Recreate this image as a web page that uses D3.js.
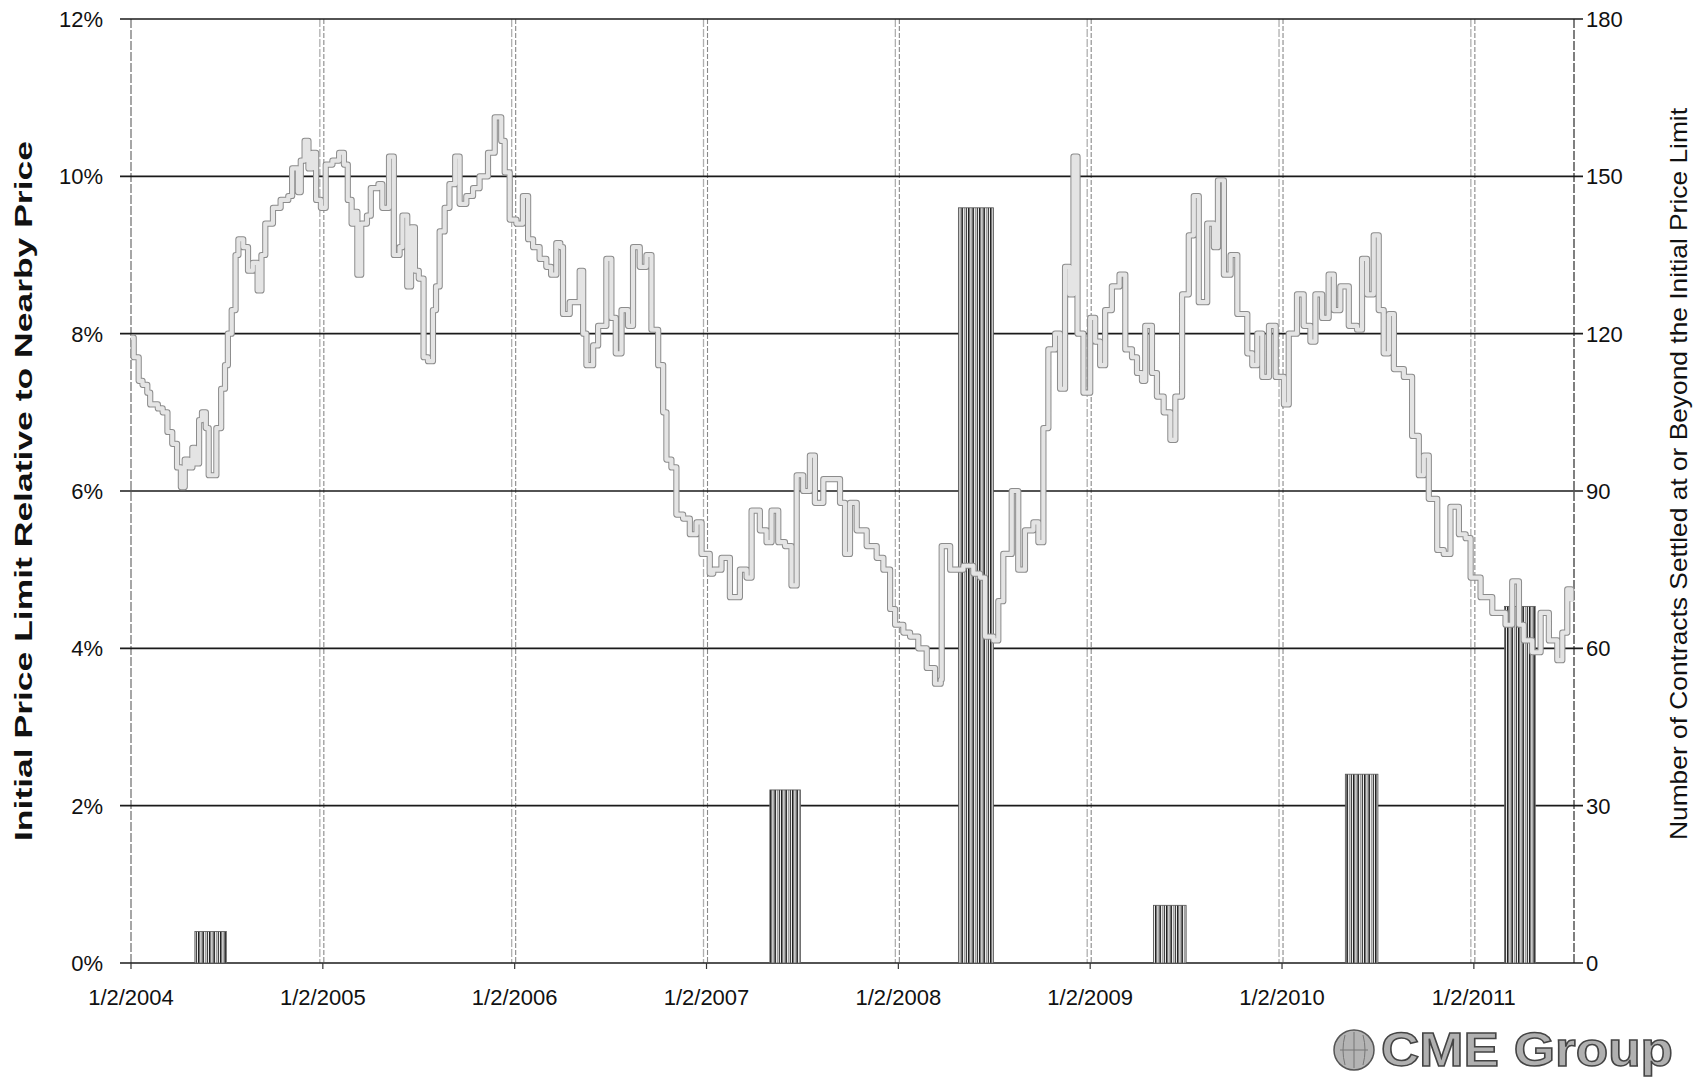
<!DOCTYPE html>
<html>
<head>
<meta charset="utf-8">
<script src="https://cdn.jsdelivr.net/npm/d3@7"></script>
<style>
  body { margin: 0; background: #fff; }
  svg text { font-family: "Liberation Sans", Arial, sans-serif; fill: #111; }
</style>
</head>
<body>
<div id="chart"></div>
<script>
// x values are years counted from 1/2 of each year
const yearTicks = [2004, 2005, 2006, 2007, 2008, 2009, 2010, 2011]
const pctTicks = [0, 2, 4, 6, 8, 10, 12]
const countTicks = [0, 30, 60, 90, 120, 150, 180]

// initial price limit relative to nearby price (%)
const priceLimit = [
  [2004.000,7.95],[2004.014,7.7],[2004.04,7.4],[2004.06,7.35],[2004.085,7.25],[2004.10,7.1],[2004.14,7.05],[2004.165,7.0],
  [2004.19,6.75],[2004.215,6.6],[2004.24,6.3],[2004.26,6.05],[2004.28,6.4],[2004.30,6.3],[2004.32,6.55],[2004.335,6.35],
  [2004.355,6.9],[2004.37,7.0],[2004.39,6.8],[2004.405,6.2],[2004.43,6.2],[2004.445,6.8],[2004.47,7.3],[2004.49,7.6],
  [2004.505,8.0],[2004.525,8.3],[2004.545,9.0],[2004.56,9.2],[2004.585,9.1],[2004.61,8.8],[2004.635,8.9],[2004.66,8.55],
  [2004.68,9.0],[2004.70,9.4],[2004.74,9.6],[2004.78,9.7],[2004.82,9.75],[2004.84,10.1],[2004.87,9.8],[2004.885,10.2],
  [2004.905,10.45],[2004.925,10.1],[2004.945,10.3],[2004.965,9.7],[2004.99,9.6],
  [2005.015,10.15],[2005.05,10.2],[2005.085,10.3],[2005.11,10.15],[2005.13,9.7],[2005.15,9.4],[2005.165,9.55],[2005.18,8.75],
  [2005.20,9.4],[2005.23,9.5],[2005.25,9.85],[2005.29,9.9],[2005.31,9.6],[2005.345,10.25],[2005.37,9.0],[2005.40,9.1],
  [2005.415,9.5],[2005.44,8.6],[2005.46,9.35],[2005.48,8.8],[2005.50,8.7],[2005.525,7.7],[2005.548,7.65],[2005.574,8.3],
  [2005.59,8.6],[2005.609,9.3],[2005.635,9.6],[2005.66,9.9],[2005.69,10.25],[2005.713,9.65],[2005.748,9.75],[2005.783,9.85],
  [2005.817,10.0],[2005.861,10.3],[2005.896,10.75],[2005.93,10.45],[2005.948,10.05],[2005.974,9.45],
  [2006.009,9.4],[2006.043,9.75],[2006.07,9.2],[2006.096,9.1],[2006.13,8.95],[2006.165,8.85],[2006.19,8.75],[2006.217,9.15],
  [2006.238,9.1],[2006.252,8.25],[2006.287,8.4],[2006.339,8.8],[2006.357,8.0],[2006.374,7.6],[2006.409,7.85],[2006.435,8.1],
  [2006.478,8.95],[2006.504,8.2],[2006.527,7.75],[2006.557,8.3],[2006.591,8.1],[2006.617,9.1],[2006.652,8.85],[2006.687,9.0],
  [2006.713,8.05],[2006.748,7.6],[2006.774,7.0],[2006.791,6.4],[2006.817,6.3],[2006.843,5.7],[2006.878,5.65],[2006.913,5.45],
  [2006.948,5.6],[2006.974,5.2],
  [2007.017,4.95],[2007.035,5.0],[2007.078,5.15],[2007.122,4.65],[2007.174,5.0],[2007.209,4.9],[2007.235,5.75],[2007.278,5.5],
  [2007.313,5.35],[2007.339,5.75],[2007.374,5.35],[2007.409,5.3],[2007.443,4.8],[2007.47,6.2],[2007.504,6.0],[2007.539,6.45],
  [2007.565,5.85],[2007.609,6.15],[2007.67,6.15],[2007.696,5.85],[2007.722,5.2],[2007.748,5.85],[2007.783,5.5],[2007.835,5.3],
  [2007.887,5.15],[2007.922,5.0],[2007.957,4.5],[2007.983,4.3],
  [2008.026,4.2],[2008.061,4.15],[2008.104,4.0],[2008.148,3.75],[2008.191,3.55],[2008.221,3.6],[2008.226,5.3],[2008.27,5.0],
  [2008.339,5.05],[2008.391,4.95],[2008.426,4.9],[2008.452,4.15],[2008.496,4.1],[2008.521,4.6],[2008.547,5.2],[2008.591,6.0],
  [2008.625,5.0],[2008.66,5.5],[2008.704,5.6],[2008.73,5.35],[2008.756,6.8],[2008.782,7.8],[2008.817,8.0],[2008.843,7.3],
  [2008.869,8.85],[2008.892,8.5],[2008.913,10.25],[2008.934,8.0],[2008.965,7.25],
  [2009.0,8.2],[2009.026,7.9],[2009.052,7.6],[2009.078,8.3],[2009.113,8.6],[2009.153,8.75],[2009.183,7.8],[2009.218,7.7],
  [2009.244,7.5],[2009.27,7.4],[2009.287,8.1],[2009.322,7.5],[2009.348,7.2],[2009.383,7.0],[2009.418,6.65],[2009.444,7.2],
  [2009.479,8.5],[2009.514,9.25],[2009.54,9.75],[2009.566,8.4],[2009.61,9.4],[2009.645,9.1],[2009.666,9.95],[2009.697,8.75],
  [2009.732,9.0],[2009.767,8.25],[2009.819,7.75],[2009.845,7.6],[2009.871,8.0],[2009.897,7.45],[2009.932,8.1],[2009.967,7.45],
  [2010.01,7.1],[2010.035,8.0],[2010.078,8.5],[2010.113,8.1],[2010.148,7.9],[2010.174,8.5],[2010.209,8.2],[2010.243,8.75],
  [2010.27,8.3],[2010.304,8.6],[2010.348,8.1],[2010.391,8.05],[2010.417,8.95],[2010.443,8.5],[2010.478,9.25],[2010.504,8.3],
  [2010.53,7.75],[2010.557,8.25],[2010.583,7.55],[2010.635,7.45],[2010.678,6.7],[2010.713,6.2],[2010.739,6.45],[2010.765,5.9],
  [2010.809,5.25],[2010.843,5.2],[2010.878,5.8],[2010.922,5.45],[2010.957,5.4],[2010.983,4.9],
  [2011.035,4.65],[2011.096,4.45],[2011.165,4.3],[2011.2,4.85],[2011.235,4.3],[2011.26,4.1],[2011.304,3.95],[2011.348,4.45],
  [2011.391,4.1],[2011.435,3.85],[2011.461,4.2],[2011.487,4.75],[2011.508,4.6]
]

// contracts settled at or beyond the limit, grouped in periods
const barStart = [2004.333, 2007.33, 2008.313, 2009.33, 2010.33, 2011.16]
const barEnd = [2004.497, 2007.49, 2008.496, 2009.50, 2010.50, 2011.32]
const barCount = [6, 33, 144, 11, 36, 68]

const width = 1700, height = 1078
const m = { left: 131, right: 1574, top: 19, bottom: 963 }

const svg = d3.select("#chart").append("svg")
  .attr("width", width)
  .attr("height", height)

const x = d3.scaleLinear().domain([2004, 2011.522]).range([m.left, m.right])
const yPct = d3.scaleLinear().domain([0, 12]).range([m.bottom, m.top])
const yCount = d3.scaleLinear().domain([0, 180]).range([m.bottom, m.top])

// stripe pattern for the bars
const defs = svg.append("defs")
const pat = defs.append("pattern")
  .attr("id", "stripes")
  .attr("patternUnits", "userSpaceOnUse")
  .attr("width", 11).attr("height", 10)
pat.append("rect").attr("width", 11).attr("height", 10).attr("fill", "#fff")
const stripes = [[0, 1.6, "#222"], [2.6, 1, "#777"], [4.3, 1.8, "#333"], [7, 0.8, "#888"], [8.7, 1.4, "#444"]]
stripes.forEach(s => pat.append("rect").attr("x", s[0]).attr("width", s[1]).attr("height", 10).attr("fill", s[2]))

// vertical year lines (faint, doubled like the scan)
const vg = svg.append("g")
yearTicks.slice(1).forEach(t => {
  vg.append("line")
    .attr("x1", x(t) - 3).attr("x2", x(t) - 3)
    .attr("y1", m.top).attr("y2", m.bottom)
    .attr("stroke", "#b0b0b0").attr("stroke-width", 1.3)
    .attr("stroke-dasharray", "8,2")
  vg.append("line")
    .attr("x1", x(t) + 1).attr("x2", x(t) + 1)
    .attr("y1", m.top).attr("y2", m.bottom)
    .attr("stroke", "#888").attr("stroke-width", 1.1)
    .attr("stroke-dasharray", "5,2")
})

// left and right axis lines
svg.append("line")
  .attr("x1", m.left).attr("x2", m.left).attr("y1", m.top).attr("y2", m.bottom)
  .attr("stroke", "#777").attr("stroke-width", 1.3).attr("stroke-dasharray", "9,2")
svg.append("line")
  .attr("x1", m.right).attr("x2", m.right).attr("y1", m.top).attr("y2", m.bottom)
  .attr("stroke", "#555").attr("stroke-width", 1.5).attr("stroke-dasharray", "9,2")

// horizontal gridlines
svg.append("g").selectAll("line")
  .data(pctTicks)
  .join("line")
  .attr("x1", m.left - 11).attr("x2", m.right + 9)
  .attr("y1", d => yPct(d)).attr("y2", d => yPct(d))
  .attr("stroke", "#1a1a1a").attr("stroke-width", 1.6)

// bottom ticks
svg.append("g").selectAll("line")
  .data(yearTicks)
  .join("line")
  .attr("x1", d => x(d)).attr("x2", d => x(d))
  .attr("y1", m.bottom).attr("y2", m.bottom + 6)
  .attr("stroke", "#333").attr("stroke-width", 1.2)

// bars
svg.append("g").selectAll("rect")
  .data(barCount)
  .join("rect")
  .attr("x", (d, i) => x(barStart[i]))
  .attr("width", (d, i) => x(barEnd[i]) - x(barStart[i]))
  .attr("y", d => yCount(d))
  .attr("height", d => m.bottom - yCount(d))
  .attr("fill", "url(#stripes)")
  .attr("stroke", "#555").attr("stroke-width", 0.8)

// price limit line: thin grey edge around a pale core
const line = d3.line()
  .x(d => x(d[0]))
  .y(d => yPct(d[1]))
  .curve(d3.curveStepAfter)

svg.append("path")
  .datum(priceLimit)
  .attr("d", line)
  .attr("fill", "none")
  .attr("stroke", "#8c8c8c")
  .attr("stroke-width", 6.2)
  .attr("stroke-linejoin", "round")
svg.append("path")
  .datum(priceLimit)
  .attr("d", line)
  .attr("fill", "none")
  .attr("stroke", "#e4e4e4")
  .attr("stroke-width", 4.2)
  .attr("stroke-linejoin", "round")

// tick labels
svg.append("g").selectAll("text")
  .data(pctTicks)
  .join("text")
  .attr("x", 103)
  .attr("y", d => yPct(d) + 8)
  .attr("text-anchor", "end")
  .style("font-size", "22px")
  .text(d => d + "%")

svg.append("g").selectAll("text")
  .data(countTicks)
  .join("text")
  .attr("x", 1586)
  .attr("y", d => yCount(d) + 8)
  .style("font-size", "22px")
  .text(d => d)

svg.append("g").selectAll("text")
  .data(yearTicks)
  .join("text")
  .attr("x", d => x(d))
  .attr("y", 1005)
  .attr("text-anchor", "middle")
  .style("font-size", "22px")
  .text(d => "1/2/" + d)

// axis titles
svg.append("text")
  .attr("transform", "translate(32, 491) rotate(-90)")
  .attr("text-anchor", "middle")
  .attr("textLength", 700)
  .attr("lengthAdjust", "spacingAndGlyphs")
  .style("font-size", "23px")
  .style("font-weight", "bold")
  .text("Initial Price Limit Relative to Nearby Price")

svg.append("text")
  .attr("transform", "translate(1687, 474) rotate(-90)")
  .attr("text-anchor", "middle")
  .attr("textLength", 732)
  .attr("lengthAdjust", "spacingAndGlyphs")
  .style("font-size", "24px")
  .text("Number of Contracts Settled at or Beyond the Initial Price Limit")

// CME Group logo
const logo = svg.append("g")
logo.append("circle")
  .attr("cx", 1354).attr("cy", 1050).attr("r", 20)
  .attr("fill", "#b4b4b4").attr("stroke", "#555").attr("stroke-width", 1.5)
logo.append("path")
  .attr("d", "M1340,1050 H1368 M1354,1032 V1068 M1345,1035 Q1341,1050 1345,1065 M1363,1035 Q1367,1050 1363,1065")
  .attr("fill", "none").attr("stroke", "#777").attr("stroke-width", 1)
logo.append("text")
  .attr("x", 1381).attr("y", 1066)
  .attr("textLength", 292)
  .attr("lengthAdjust", "spacingAndGlyphs")
  .style("font-size", "49px")
  .style("font-weight", "bold")
  .style("fill", "#b0b0b0")
  .attr("stroke", "#444").attr("stroke-width", 1.5)
  .text("CME Group")
</script>
</body>
</html>
